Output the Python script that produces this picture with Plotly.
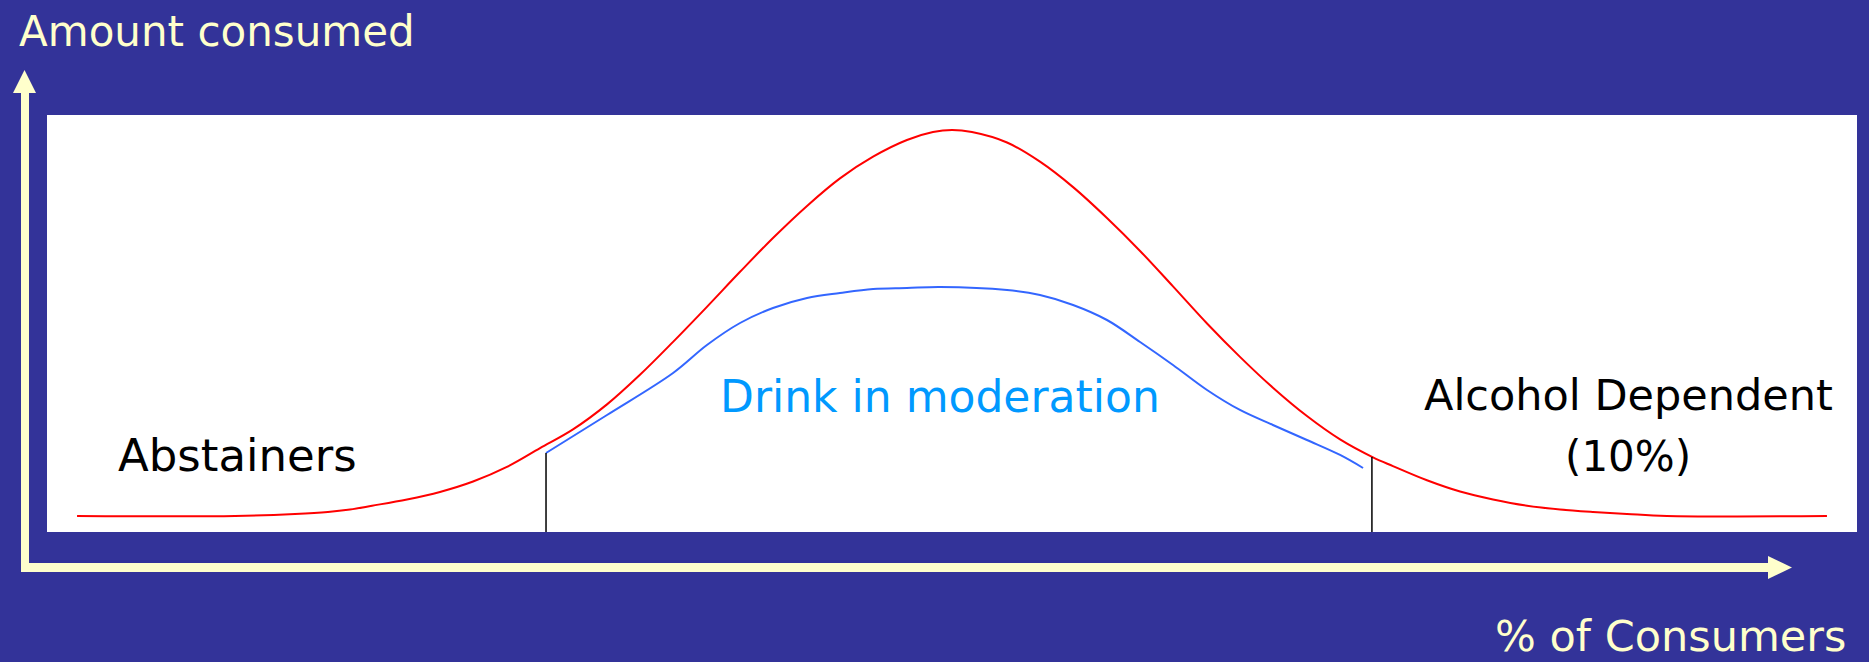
import plotly.graph_objects as go

# ---- data (x: % of consumers across the panel, y: amount consumed) ----
red_x = [1.66, 10.39, 13.70, 15.52, 16.74, 17.96, 19.89, 21.71, 23.54, 25.41, 27.24,
         29.06, 30.94, 32.76, 34.59, 36.46, 38.29, 40.11, 41.99, 43.81, 45.64, 47.51,
         48.95, 50.00, 51.10, 53.04, 54.86, 56.69, 58.56, 60.39, 62.21, 64.09, 65.91,
         67.73, 69.61, 71.44, 73.26, 74.36, 76.24, 78.07, 79.89, 81.77, 83.59, 85.41,
         87.29, 89.50, 98.34]
red_y = [3.84, 3.84, 4.32, 4.80, 5.40, 6.30, 7.80, 9.60, 12.10, 15.60, 20.10,
         24.60, 30.60, 37.70, 45.60, 54.00, 62.40, 70.50, 78.20, 84.80, 90.00, 94.00,
         95.90, 96.40, 95.90, 93.40, 88.80, 82.70, 75.30, 67.40, 58.90, 50.00, 42.00,
         34.60, 27.80, 22.20, 17.90, 15.80, 12.40, 9.70, 7.80, 6.30, 5.40, 4.80,
         4.32, 3.84, 3.84]

blue_x = [27.57, 30.94, 34.59, 36.46, 38.29, 40.11, 41.99, 43.81, 45.64, 47.51, 49.34,
          53.04, 54.86, 56.69, 58.56, 60.39, 62.21, 64.09, 65.91, 67.73, 69.61, 71.44,
          72.71]
blue_y = [18.94, 28.06, 38.13, 44.84, 50.12, 53.72, 56.12, 57.31, 58.27, 58.51, 58.75,
          58.03, 56.83, 54.44, 50.84, 45.56, 40.05, 34.05, 29.26, 25.66, 22.06, 18.47,
          15.35]

boundary_x = [27.57, 73.20]
boundary_top = [18.94, 17.99]

labels = ["Abstainers", "Drink in moderation", "Alcohol Dependent", "(10%)"]
title_y = "Amount consumed"
title_x = "% of Consumers"

# ---- styling ----
W, H = 1869, 662
BG = "#333399"
YEL = "#FFFFCC"
FONT = "Comic Sans MS, DejaVu Sans, sans-serif"


def px(x):
    return x / W


def py(y):
    return 1 - y / H


fig = go.Figure()
fig.add_trace(go.Scatter(x=red_x, y=red_y, mode="lines",
                         line=dict(color="#FF0000", width=2, shape="spline", smoothing=1.0),
                         hoverinfo="skip", showlegend=False))
fig.add_trace(go.Scatter(x=blue_x, y=blue_y, mode="lines",
                         line=dict(color="#3366FF", width=2, shape="spline", smoothing=1.0),
                         hoverinfo="skip", showlegend=False))
for bx, bt in zip(boundary_x, boundary_top):
    fig.add_trace(go.Scatter(x=[bx, bx], y=[0, bt], mode="lines", line=dict(color="#000000", width=1.5),
                             hoverinfo="skip", showlegend=False))

shapes = [
    # vertical axis shaft and arrow head
    dict(type="rect", xref="paper", yref="paper", x0=px(21), x1=px(29), y0=py(572), y1=py(92),
         fillcolor=YEL, line=dict(width=0), layer="above"),
    dict(type="path", xref="paper", yref="paper",
         path=f"M {px(13)} {py(93)} L {px(36)} {py(93)} L {px(24.5)} {py(70)} Z",
         fillcolor=YEL, line=dict(width=0)),
    # horizontal axis shaft and arrow head
    dict(type="rect", xref="paper", yref="paper", x0=px(21), x1=px(1769), y0=py(572), y1=py(563),
         fillcolor=YEL, line=dict(width=0), layer="above"),
    dict(type="path", xref="paper", yref="paper",
         path=f"M {px(1768)} {py(556)} L {px(1768)} {py(579)} L {px(1792)} {py(567.5)} Z",
         fillcolor=YEL, line=dict(width=0)),
]

annotations = [
    dict(text=title_y, x=px(17), y=py(31), xanchor="left", yanchor="middle",
         font=dict(family=FONT, size=42, color=YEL)),
    dict(text=title_x, x=px(1848), y=py(636), xanchor="right", yanchor="middle",
         font=dict(family=FONT, size=43, color=YEL)),
    dict(text=labels[0], x=px(116), y=py(455), xanchor="left", yanchor="middle",
         font=dict(family=FONT, size=45, color="#000000")),
    dict(text=labels[1], x=px(940), y=py(396), xanchor="center", yanchor="middle",
         font=dict(family=FONT, size=44, color="#0099FF")),
    dict(text=labels[2], x=px(1628), y=py(395), xanchor="center", yanchor="middle",
         font=dict(family=FONT, size=43, color="#000000")),
    dict(text=labels[3], x=px(1628), y=py(456), xanchor="center", yanchor="middle",
         font=dict(family=FONT, size=42, color="#000000")),
]
for a in annotations:
    a.update(xref="paper", yref="paper", showarrow=False)

fig.update_layout(
    width=W, height=H,
    margin=dict(l=0, r=0, t=0, b=0),
    paper_bgcolor=BG, plot_bgcolor="#FFFFFF",
    xaxis=dict(domain=[47 / W, 1857 / W], range=[0, 100], visible=False, fixedrange=True),
    yaxis=dict(domain=[(H - 532) / H, (H - 115) / H], range=[0, 100], visible=False, fixedrange=True),
    shapes=shapes, annotations=annotations,
)

fig.write_html("out.html", config={"displayModeBar": False},
               post_script="document.body.style.margin='0';document.body.style.padding='0';"
                           "document.body.style.overflow='hidden';")
